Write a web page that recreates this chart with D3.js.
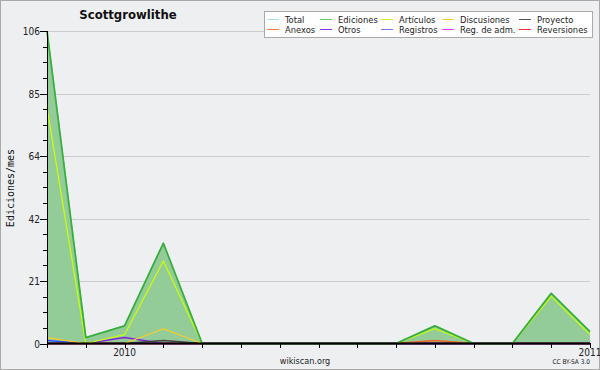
<!DOCTYPE html>
<html><head><meta charset="utf-8">
<script src="https://cdn.jsdelivr.net/npm/d3@7"></script>
<style>body{margin:0;background:#fff}svg{display:block}</style>
</head><body>
<svg id="c" width="600" height="370"></svg>
<script>
const months = ["2009-11","2009-12","2010-01","2010-02","2010-03","2010-04","2010-05","2010-06","2010-07","2010-08","2010-09","2010-10","2010-11","2010-12","2011-01"];
const total       = [106,2,6,34,0,0,0,0,0,0,6,0,0,17,4];
const ediciones   = [106,2,6,34,0,0,0,0,0,0,6,0,0,17,4];
const articulos   = [80,0,3,28,0,0,0,0,0,0,5,0,0,16,3];
const discusiones = [2,0,0,5,0,0,0,0,0,0,0,0,0,0,0];
const proyecto    = [0,0,0,1,0,0,0,0,0,0,0,0,0,0,0];
const anexos      = [0,0,0,0,0,0,0,0,0,0,1,0,0,0,0];
const otros       = [0,0,2,0,0,0,0,0,0,0,0,0,0,0,0];
const registros   = [1,0,0,0,0,0,0,0,0,0,0,0,0,0,0];
const regadm      = [0,0,0,0,0,0,0,0,0,0,0,0,0,0,0];
const reversiones = [0,0,0,0,0,0,0,0,0,0,0,0,0,0,0];
const yMax = 106;
const yLabels = [0,21,42,64,85,106];
const xLabels = [{i:2,t:"2010"},{i:14,t:"2011"}];
const legendNames = ["Total","Ediciones","Artículos","Discusiones","Proyecto","Anexos","Otros","Registros","Reg. de adm.","Reversiones"];

const series = [
  {name:"Total",v:total,c:"#8fe3e3",w:1.5},
  {name:"Reversiones",v:reversiones,c:"#ff3030",w:1.5},
  {name:"Reg. de adm.",v:regadm,c:"#e040e0",w:1.5},
  {name:"Registros",v:registros,c:"#3050ff",w:1.5},
  {name:"Otros",v:otros,c:"#8020e0",w:1.5},
  {name:"Anexos",v:anexos,c:"#f06020",w:1.5},
  {name:"Proyecto",v:proyecto,c:"#404040",w:1.5},
  {name:"Discusiones",v:discusiones,c:"#ffcc20",w:1.2},
  {name:"Artículos",v:articulos,c:"#ccff00",w:1.2},
  {name:"Ediciones",v:ediciones,c:"#3aad3a",w:1.8}
];
const legendColors = {"Total":"#99e8e8","Ediciones":"#66cc66","Artículos":"#ccf020","Discusiones":"#ffcc33","Proyecto":"#555555","Anexos":"#ff8040","Otros":"#8833ee","Registros":"#7777ff","Reg. de adm.":"#ee44ee","Reversiones":"#ff3333"};

const svg = d3.select("#c");
svg.append("rect").attr("x",0.5).attr("y",0.5).attr("width",599).attr("height",369).attr("fill","#eeeff1").attr("stroke","#aaaaaa");

const x = d3.scaleLinear().domain([0, months.length-1]).range([47, 590]);
const y = d3.scaleLinear().domain([0, yMax]).range([343.5, 31]);
const majorVals = d3.range(0,6).map(k=>k*yMax/5);

// grid
svg.append("g").selectAll("line").data(majorVals.slice(1)).join("line")
  .attr("x1",47).attr("x2",590).attr("y1",d=>Math.round(y(d))+0.5).attr("y2",d=>Math.round(y(d))+0.5)
  .attr("stroke","#cccccc").attr("stroke-width",1);

// area
const area = d3.area().x((d,i)=>x(i)).y0(y(0)).y1(d=>y(d));
svg.append("path").datum(total).attr("d",area).attr("fill","#93cc99");

const line = d3.line().x((d,i)=>x(i)).y(d=>y(d));
series.forEach(s=>{
  svg.append("path").datum(s.v).attr("d",line).attr("fill","none").attr("stroke",s.c).attr("stroke-width",s.w).attr("stroke-linejoin","round");
});

// y axis
const yTicks = d3.range(0,21).map(k=>k*yMax/20);
const ya = svg.append("g");
ya.selectAll("line").data(yTicks).join("line")
  .attr("x1",(d,k)=>k%4===0?40:43).attr("x2",47)
  .attr("y1",d=>Math.round(y(d))+0.5).attr("y2",d=>Math.round(y(d))+0.5)
  .attr("stroke","#000");
ya.append("line").attr("x1",47.5).attr("x2",47.5).attr("y1",31).attr("y2",344).attr("stroke","#000");
ya.selectAll("text").data(yLabels).join("text")
  .attr("x",40).attr("y",(d,k)=>Math.round(y(majorVals[k]))+4)
  .attr("text-anchor","end").attr("font-family","DejaVu Sans Condensed, DejaVu Sans").attr("font-size",10).attr("fill","#222")
  .text(d=>d);

// x axis
const xa = svg.append("g");
xa.append("line").attr("x1",47).attr("x2",590).attr("y1",343.5).attr("y2",343.5).attr("stroke","#000").attr("stroke-width",2);
xa.selectAll("line.t").data(months).join("line").attr("class","t")
  .attr("x1",(d,i)=>Math.round(x(i))+0.5).attr("x2",(d,i)=>Math.round(x(i))+0.5)
  .attr("y1",343).attr("y2",348).attr("stroke","#000");
xa.selectAll("text").data(xLabels).join("text")
  .attr("x",d=>x(d.i)).attr("y",356).attr("text-anchor","middle")
  .attr("font-family","DejaVu Sans Condensed, DejaVu Sans").attr("font-size",10).attr("fill","#222").text(d=>d.t);

// titles
svg.append("text").attr("x",128).attr("y",19).attr("text-anchor","middle")
  .attr("font-family","DejaVu Sans Condensed, DejaVu Sans").attr("font-weight","bold").attr("font-size",13).attr("fill","#111").text("Scottgrowlithe");
svg.append("text").attr("transform","translate(14,188) rotate(-90)").attr("text-anchor","middle")
  .attr("font-family","DejaVu Sans Mono").attr("font-size",10).attr("fill","#111").text("Ediciones/mes");
svg.append("text").attr("x",305).attr("y",364).attr("text-anchor","middle")
  .attr("font-family","DejaVu Sans Condensed, DejaVu Sans").attr("font-size",9).attr("fill","#222").text("wikiscan.org");
svg.append("text").attr("x",590).attr("y",364).attr("text-anchor","end")
  .attr("font-family","DejaVu Sans Condensed, DejaVu Sans").attr("font-size",6.5).attr("fill","#222").text("CC BY-SA 3.0");

// legend
const lg = svg.append("g");
lg.append("rect").attr("x",264.5).attr("y",11.5).attr("width",328).attr("height",26).attr("fill","#fff").attr("stroke","#aaaaaa");
const colX = [267,320,381,442,519];
legendNames.forEach((n,k)=>{
  const col = k%5, row = Math.floor(k/5);
  const lx = colX[col], ly = 19.5 + row*10;
  lg.append("line").attr("x1",lx).attr("x2",lx+12).attr("y1",ly).attr("y2",ly).attr("stroke",legendColors[n]).attr("stroke-width",1);
  lg.append("text").attr("x",lx+18).attr("y",ly+3.5).attr("font-family","DejaVu Sans Condensed, DejaVu Sans").attr("font-size",9.3).attr("fill","#222").text(n);
});
</script>
</body></html>
